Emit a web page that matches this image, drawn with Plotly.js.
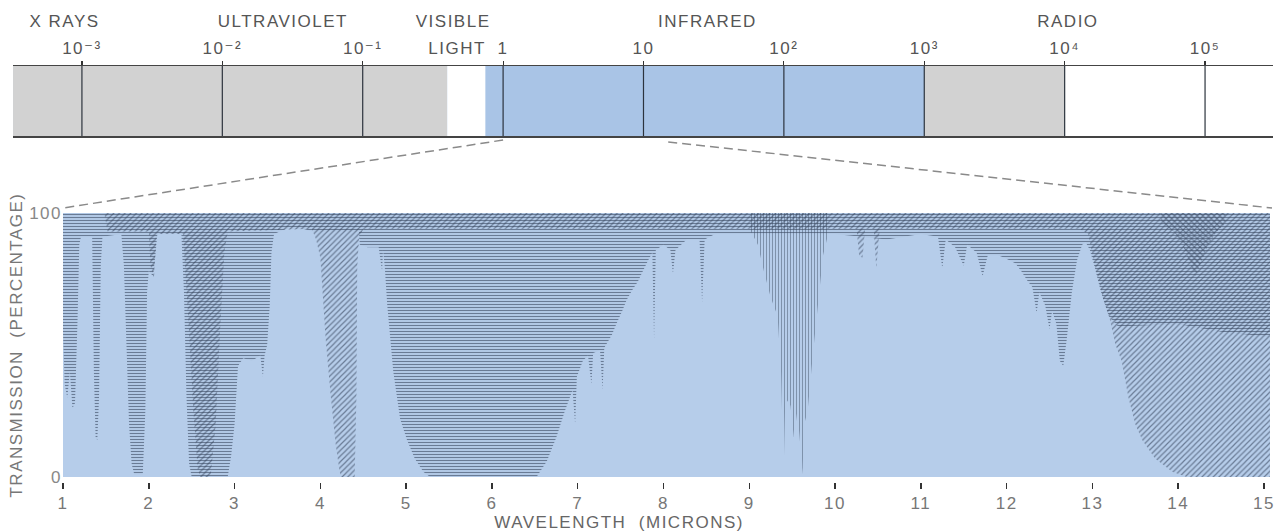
<!DOCTYPE html>
<html><head><meta charset="utf-8">
<script src="https://cdn.plot.ly/plotly-3.0.1.min.js"></script>
<style>
html,body{margin:0;padding:0;background:#fff;}
#chart{width:1274px;height:532px;}
#chart text{letter-spacing:1.5px;}
</style></head><body><div id="chart"></div>
<script>
// ---------- electromagnetic spectrum bar (microns, log scale) ----------
const bandNames  = ['X rays / ultraviolet', 'visible light', 'infrared', 'radio (short)', 'radio'];
const bandStart  = [0.000323, 0.40, 0.75, 1000, 10000];
const bandEnd    = [0.40, 0.75, 1000, 10000, 305000];
const decadeVals = [0.001, 0.01, 0.1, 1, 10, 100, 1000, 10000, 100000];
const decadeText = ['10⁻³', '10⁻²', '10⁻¹', '1', '10', '10²', '10³', '10⁴', '10⁵'];
const regionLines   = [['X RAYS'], ['ULTRAVIOLET'], ['VISIBLE', 'LIGHT'], ['INFRARED'], ['RADIO']];
const regionCenters = [0.00075, 0.027, 0.44, 28.8, 10600];
const zoomWl = [1, 15];   // part of the spectrum enlarged below

// ---------- atmospheric transmission, 1-15 microns ----------
// water vapour absorption (lower edge of horizontal hatching, % transmission)
const h2oWl = [1.00,1.02,1.05,1.08,1.11,1.14,1.17,1.19,1.21,1.34,1.36,1.38,1.40,1.42,1.44,1.46,
  1.68,1.71,1.74,1.77,1.80,1.83,1.93,1.96,1.98,2.00,2.05,2.08,2.10,2.38,2.41,2.44,2.47,2.50,
  2.92,2.96,3.00,3.04,3.10,3.20,3.30,3.33,3.35,3.38,3.41,3.43,3.46,3.60,3.80,3.90,4.45,4.46,
  4.55,4.68,4.71,4.72,4.73,4.75,4.78,4.85,4.93,5.01,5.10,5.20,5.28,6.52,6.64,6.75,6.85,6.94,
  6.97,6.99,7.06,7.12,7.16,7.18,7.26,7.29,7.31,7.40,7.45,7.52,7.57,7.64,7.70,7.76,7.82,7.87,
  7.89,7.91,8.00,8.08,8.11,8.14,8.27,8.42,8.45,8.48,8.60,9.00,9.90,10.00,10.60,10.80,11.00,
  11.20,11.25,11.29,11.40,11.50,11.54,11.65,11.72,11.78,11.90,11.98,12.10,12.17,12.25,12.30,
  12.35,12.38,12.45,12.50,12.53,12.58,12.62,12.66,12.70,12.76,12.82,12.88,12.92,12.97,13.03,
  13.10,13.19,13.30,14.00,14.50,15.07];
const h2oT = [55,35,30,40,26,28,60,88,91,91,40,15,14,30,80,91,
  92,80,50,20,5,1,1,25,70,78,76,85,92,92,70,30,5,0,
  0,8,20,42,45,44,46,38,46,50,65,85,92,94,94,93,93,88,
  87,87,80,78,86,80,65,40,22,14,7,2,0,0,6,15,25,33,
  20,38,44,46,35,47,48,33,49,54,58,63,67,71,74,78,82,85,
  52,86,88,86,77,86,90,90,66,90,92,92,92,92,90,91,92,
  91,79,90,87,80,88,85,76,84,84,83,81,78,74,72,
  62,70,65,56,63,58,44,42,52,70,82,88,89,86,79,
  70,61,57,58,55,53];
// carbon dioxide absorption (lower edge of diagonal hatching)
const co2Wl = [1.00,1.48,1.52,2.00,2.02,2.06,2.09,2.40,2.46,2.52,2.57,2.60,2.72,2.78,2.83,2.88,
  2.92,3.90,3.95,4.00,4.06,4.12,4.18,4.22,4.24,4.40,4.42,4.43,4.45,4.50,10.25,10.28,10.32,
  10.35,10.45,10.48,10.52,12.85,12.95,13.03,13.12,13.20,13.27,13.34,13.42,13.50,13.58,13.73,
  13.93,14.10,15.07];
const co2T = [100,100,93,93,80,75,92,92,60,25,3,0,0,20,55,85,
  93,94,90,83,53,31,12,3,0,0,30,80,90,94,94,84,83,
  94,94,79,94,94,92,80,68,60,50,44,30,20,14,7,
  2,0,0];
// strong carbon dioxide Q-branch near 14.2 microns (extra hatching)
const co2qWl = [13.80,13.95,14.05,14.15,14.20,14.25,14.35,14.45,14.55];
const co2qT  = [96,93,88,80,76,80,88,93,96];
// ozone absorption (lower edge of vertical hatching)
const o3Wl = [9.02,9.10,9.17,9.25,9.33,9.37,9.40,9.42,9.48,9.52,9.56,9.60,9.62,9.64,9.68,9.74,9.80,9.86,9.92];
const o3T  = [93,88,78,68,61,40,1,30,27,15,25,10,1,20,25,46,65,84,92];

// ---------- layout geometry & styles ----------
const W = 1274, H = 532;
const topDomX = [13 / W, 1273 / W], topDomY = [1 - 136 / H, 1 - 66 / H];
const topRange = [-3.491, 5.484];
const botDomX = [63 / W, 1270 / W], botDomY = [1 - 477 / H, 1 - 213 / H];
const botRange = [1, 15.07];
const bandFill = {'X rays / ultraviolet': '#d2d2d2', 'visible light': '#ffffff', 'infrared': '#a9c4e6',
                  'radio (short)': '#d2d2d2', 'radio': '#ffffff'};
const hatchColor = '#3a4860';
const FONT = 'Liberation Sans, DejaVu Sans, Arial, sans-serif';

const traces = [];
bandNames.forEach((n, i) => {
  traces.push({
    type: 'scatter', mode: 'none', name: n, xaxis: 'x2', yaxis: 'y2',
    x: [bandStart[i], bandEnd[i], bandEnd[i], bandStart[i], bandStart[i]],
    y: [0, 0, 1, 1, 0], fill: 'toself', fillcolor: bandFill[n], hoverinfo: 'skip'
  });
});
traces.push({
  type: 'scatter', mode: 'lines', name: 'decades', xaxis: 'x2', yaxis: 'y2',
  x: decadeVals.flatMap(v => [v, v, null]), y: decadeVals.flatMap(() => [0, 1, null]),
  line: {color: '#2c333d', width: 1.2}, hoverinfo: 'skip'
});

function hatch(name, wl, t, shape, size, solidity, op) {
  return {
    type: 'scatter', mode: 'none', name: name, xaxis: 'x', yaxis: 'y',
    x: wl.concat([wl[wl.length - 1], wl[0]]), y: t.concat([100, 100]),
    fill: 'toself', fillcolor: 'rgba(0,0,0,0)',
    fillpattern: {shape: shape, size: size, solidity: solidity, fgcolor: hatchColor,
                  bgcolor: 'rgba(0,0,0,0)', fgopacity: op},
    hoverinfo: 'skip'
  };
}
traces.push(hatch('water vapour', h2oWl, h2oT, '-', 3, 0.38, 0.62));
traces.push(hatch('carbon dioxide', co2Wl, co2T, '/', 4, 0.3, 0.62));
traces.push(hatch('carbon dioxide Q-branch', co2qWl, co2qT, '\\', 4, 0.3, 0.55));
traces.push(hatch('ozone', o3Wl, o3T, '|', 3, 0.3, 0.5));

// paper coordinates of the connector lines
const topPx = v => topDomX[0] + (Math.log10(v) - topRange[0]) / (topRange[1] - topRange[0]) * (topDomX[1] - topDomX[0]);
const botPx = v => botDomX[0] + (v - botRange[0]) / (botRange[1] - botRange[0]) * (botDomX[1] - botDomX[0]);
const shapes = [
  {type: 'line', xref: 'paper', yref: 'paper', x0: topPx(zoomWl[0]), y0: topDomY[0] - 4 / H,
   x1: botPx(botRange[0]), y1: botDomY[1] + 5 / H, line: {color: '#8a8a8a', width: 1.5, dash: '9px,5px'}},
  {type: 'line', xref: 'paper', yref: 'paper', x0: topPx(zoomWl[1]), y0: topDomY[0] - 6 / H,
   x1: botPx(botRange[1]) + 2 / W, y1: botDomY[1] + 5 / H, line: {color: '#8a8a8a', width: 1.5, dash: '9px,5px'}}
];

const annotations = [];
regionLines.forEach((lines, i) => {
  lines.forEach((txt, j) => {
    annotations.push({
      xref: 'x2', yref: 'paper', x: Math.log10(regionCenters[i]) + (j ? 0.03 : 0),
      y: 1 - (22 + 27 * j) / H, text: txt, showarrow: false, xanchor: 'center', yanchor: 'middle',
      font: {family: FONT, size: 17, color: '#555'}
    });
  });
});
// x-axis title (set left of centre, as in the original figure)
annotations.push({
  xref: 'paper', yref: 'paper', x: 619 / W, y: 1 - 522 / H, text: 'WAVELENGTH  (MICRONS)',
  showarrow: false, xanchor: 'center', yanchor: 'middle', font: {family: FONT, size: 17, color: '#666'}
});

const layout = {
  width: W, height: H, margin: {l: 0, r: 0, t: 0, b: 0},
  paper_bgcolor: '#ffffff', plot_bgcolor: '#b6cdea', showlegend: false,
  font: {family: FONT, size: 17, color: '#666'},
  xaxis2: {type: 'log', domain: topDomX, range: topRange, anchor: 'y2', side: 'top',
    tickvals: decadeVals, ticktext: decadeText, ticks: 'outside', ticklen: 4, tickwidth: 1.2,
    tickcolor: '#333', showline: true, mirror: true, linecolor: '#444', linewidth: 1.5,
    showgrid: false, zeroline: false, tickfont: {family: FONT, size: 17, color: '#555'}, automargin: false},
  yaxis2: {domain: topDomY, range: [0, 1], anchor: 'x2', visible: false, fixedrange: true},
  xaxis: {domain: botDomX, range: botRange, anchor: 'free', position: 1 - 482 / H,
    tick0: 1, dtick: 1, ticks: 'outside', ticklen: 6, tickwidth: 1.5, tickcolor: '#333',
    showline: false, showgrid: false, zeroline: false, automargin: false,
    tickfont: {family: FONT, size: 17, color: '#777'}},
  yaxis: {domain: botDomY, range: [0, 100], anchor: 'x', tickvals: [0, 100], ticktext: ['0', '100'],
    ticks: '', showline: false, showgrid: false, zeroline: false, automargin: false,
    tickfont: {family: FONT, size: 17, color: '#888'},
    title: {text: 'TRANSMISSION  (PERCENTAGE)', standoff: 6, font: {family: FONT, size: 17, color: '#777'}}},
  shapes: shapes, annotations: annotations
};
Plotly.newPlot('chart', traces, layout, {staticPlot: true, displayModeBar: false});
</script></body></html>
